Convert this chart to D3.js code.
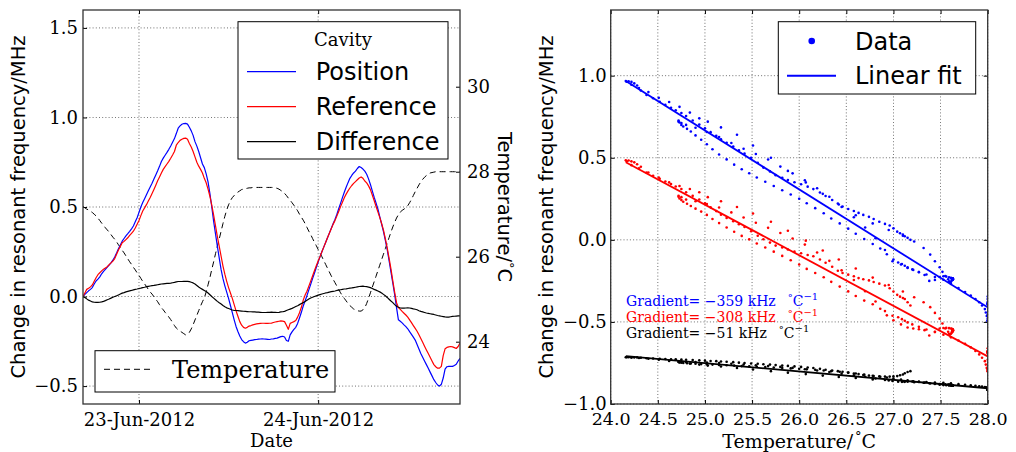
<!DOCTYPE html>
<html>
<head>
<meta charset="utf-8">
<script src="https://cdn.jsdelivr.net/npm/d3@7"></script>
<style>
  body { margin: 0; background: #fff; }
  svg { display: block; }
</style>
</head>
<body>
<svg id="chart" width="1016" height="452"></svg>
<script>
// ---- Data: cavity resonant frequency shifts (MHz) and lab temperature (°C),
// ---- logged every 15 minutes from 22-Jun-2012 16:30 UTC.
const startTime = "2012-06-22T16:30:00Z";
const stepMinutes = 15;

const position = [
  0.0, 0.012, 0.022, 0.032, 0.04, 0.05, 0.07, 0.087, 0.097, 0.11,
  0.127, 0.14, 0.152, 0.164, 0.176, 0.188, 0.203, 0.221, 0.243,
  0.267, 0.288, 0.309, 0.324, 0.339, 0.351, 0.364, 0.378, 0.394, 0.417,
  0.44, 0.47, 0.5, 0.525, 0.546, 0.568, 0.591, 0.612, 0.633, 0.656,
  0.679, 0.702, 0.727, 0.754, 0.773, 0.789, 0.805, 0.822, 0.841, 0.862,
  0.882, 0.91, 0.94, 0.953, 0.962, 0.966, 0.967, 0.963, 0.945, 0.925,
  0.90, 0.865, 0.84, 0.81, 0.775, 0.74, 0.72, 0.685, 0.64, 0.575,
  0.50, 0.42, 0.35, 0.28, 0.215, 0.15, 0.10, 0.06, 0.025, -0.01,
  -0.05, -0.09, -0.13, -0.167, -0.195, -0.22, -0.24, -0.252, -0.26, -0.255,
  -0.247, -0.245, -0.243, -0.241, -0.24, -0.238, -0.237, -0.236, -0.237, -0.238,
  -0.239, -0.24, -0.237, -0.236, -0.234, -0.232, -0.228, -0.224, -0.222, -0.226,
  -0.245, -0.25, -0.214, -0.197, -0.183, -0.172, -0.15, -0.12, -0.088, -0.053,
  -0.025, 0.005, 0.037, 0.068, 0.10, 0.13, 0.162, 0.193, 0.223, 0.25,
  0.276, 0.302, 0.328, 0.354, 0.38, 0.406, 0.43, 0.458, 0.49, 0.52,
  0.552, 0.582, 0.61, 0.636, 0.66, 0.676, 0.69, 0.70, 0.715, 0.726,
  0.72, 0.712, 0.70, 0.683, 0.657, 0.626, 0.59, 0.555, 0.523, 0.489,
  0.446, 0.405, 0.363, 0.314, 0.262, 0.2, 0.138, 0.075, 0.01, -0.062,
  -0.13, -0.138, -0.147, -0.158, -0.168, -0.18, -0.196, -0.211, -0.227, -0.243,
  -0.268, -0.293, -0.318, -0.339, -0.36, -0.38, -0.40, -0.422, -0.443, -0.464,
  -0.48, -0.494, -0.50, -0.49, -0.455, -0.405, -0.392, -0.39, -0.39, -0.39,
  -0.385, -0.378, -0.36, -0.345
];

const reference = [
  0.0, 0.02, 0.04, 0.046, 0.054, 0.065, 0.085, 0.105, 0.122, 0.133,
  0.143, 0.153, 0.16, 0.167, 0.178, 0.188, 0.198, 0.212, 0.236,
  0.26, 0.28, 0.3, 0.308, 0.318, 0.328, 0.341, 0.353, 0.365, 0.383,
  0.404, 0.425, 0.452, 0.478, 0.495, 0.513, 0.533, 0.553, 0.575, 0.598,
  0.622, 0.646, 0.668, 0.69, 0.71, 0.725, 0.74, 0.755, 0.772, 0.79,
  0.81, 0.845, 0.86, 0.872, 0.878, 0.883, 0.885, 0.878, 0.855, 0.835,
  0.81, 0.78, 0.75, 0.728, 0.71, 0.69, 0.66, 0.635, 0.60, 0.56,
  0.51, 0.455, 0.395, 0.335, 0.28, 0.225, 0.17, 0.125, 0.085, 0.05,
  0.02, -0.01, -0.045, -0.08, -0.11, -0.14, -0.16, -0.172, -0.177, -0.172,
  -0.165, -0.162, -0.158, -0.155, -0.153, -0.151, -0.15, -0.149, -0.149, -0.15,
  -0.15, -0.149, -0.148, -0.145, -0.142, -0.14, -0.138, -0.136, -0.137, -0.14,
  -0.16, -0.183, -0.15, -0.145, -0.14, -0.134, -0.115, -0.09, -0.06, -0.02,
  0.008, 0.03, 0.058, 0.086, 0.115, 0.144, 0.172, 0.198, 0.223, 0.25,
  0.276, 0.302, 0.328, 0.353, 0.378, 0.403, 0.424, 0.449, 0.475, 0.502,
  0.527, 0.552, 0.572, 0.59, 0.606, 0.62, 0.632, 0.642, 0.652, 0.662,
  0.668, 0.66, 0.645, 0.635, 0.618, 0.597, 0.567, 0.536, 0.504, 0.473,
  0.442, 0.408, 0.371, 0.323, 0.272, 0.214, 0.155, 0.087, 0.024, -0.034,
  -0.062, -0.072, -0.083, -0.093, -0.103, -0.115, -0.13, -0.146, -0.162, -0.178,
  -0.194, -0.213, -0.234, -0.255, -0.277, -0.298, -0.318, -0.339, -0.36, -0.38,
  -0.392, -0.40, -0.40, -0.39, -0.33, -0.292, -0.284, -0.281, -0.279, -0.281,
  -0.285, -0.29, -0.279, -0.26
];

const difference = [
  0.0, -0.005, -0.013, -0.02, -0.025, -0.03, -0.032, -0.033, -0.033, -0.032,
  -0.03, -0.027, -0.023, -0.018, -0.014, -0.009, -0.004, 0.0, 0.004,
  0.009, 0.014, 0.019, 0.022, 0.026, 0.029, 0.032, 0.034, 0.037, 0.04,
  0.042, 0.045, 0.047, 0.05, 0.052, 0.055, 0.057, 0.059, 0.061, 0.062,
  0.064, 0.066, 0.068, 0.07, 0.071, 0.072, 0.073, 0.074, 0.075, 0.077,
  0.079, 0.082, 0.084, 0.084, 0.084, 0.085, 0.085, 0.085, 0.083, 0.08,
  0.076, 0.07, 0.062, 0.053, 0.046, 0.04, 0.034, 0.028, 0.02, 0.01,
  0.0, -0.009, -0.018, -0.027, -0.035, -0.042, -0.05, -0.057, -0.063, -0.067,
  -0.071, -0.075, -0.077, -0.078, -0.079, -0.08, -0.081, -0.082, -0.083, -0.084,
  -0.085, -0.085, -0.086, -0.086, -0.087, -0.087, -0.088, -0.089, -0.089, -0.089,
  -0.088, -0.088, -0.087, -0.088, -0.088, -0.089, -0.088, -0.086, -0.085, -0.083,
  -0.078, -0.074, -0.07, -0.066, -0.061, -0.056, -0.051, -0.045, -0.039, -0.034,
  -0.028, -0.021, -0.014, -0.008, -0.004, 0.0, 0.004, 0.008, 0.011, 0.014,
  0.017, 0.02, 0.022, 0.025, 0.027, 0.029, 0.031, 0.034, 0.036, 0.038,
  0.04, 0.042, 0.043, 0.045, 0.047, 0.048, 0.05, 0.052, 0.054, 0.056,
  0.057, 0.058, 0.056, 0.055, 0.053, 0.05, 0.045, 0.04, 0.036, 0.031,
  0.026, 0.02, 0.012, 0.004, -0.005, -0.015, -0.025, -0.034, -0.045, -0.054,
  -0.06, -0.064, -0.065, -0.065, -0.064, -0.063, -0.064, -0.066, -0.069, -0.071,
  -0.074, -0.079, -0.083, -0.086, -0.089, -0.092, -0.094, -0.096, -0.098, -0.1,
  -0.103, -0.106, -0.108, -0.11, -0.112, -0.114, -0.115, -0.115, -0.113, -0.111,
  -0.11, -0.109, -0.108, -0.108
];

const temperature = [
  27.18, 27.15, 27.12, 27.1, 27.07, 27.04, 27.0, 26.96, 26.91, 26.85,
  26.79, 26.74, 26.68, 26.63, 26.58, 26.52, 26.46, 26.41, 26.35,
  26.28, 26.22, 26.15, 26.09, 26.02, 25.95, 25.88, 25.82, 25.75, 25.69,
  25.62, 25.56, 25.49, 25.42, 25.36, 25.3, 25.23, 25.17, 25.12, 25.06,
  25.0, 24.94, 24.87, 24.8, 24.75, 24.69, 24.64, 24.58, 24.52, 24.45,
  24.38, 24.32, 24.28, 24.25, 24.22, 24.19, 24.16, 24.17, 24.22, 24.3,
  24.4, 24.51, 24.62, 24.73, 24.84, 24.94, 25.03, 25.17, 25.34, 25.51,
  25.7, 25.88, 26.07, 26.25, 26.42, 26.6, 26.78, 26.95, 27.1, 27.22,
  27.32, 27.39, 27.44, 27.49, 27.52, 27.55, 27.58, 27.59, 27.6, 27.61,
  27.62, 27.62, 27.63, 27.63, 27.63, 27.63, 27.63, 27.63, 27.63, 27.63,
  27.63, 27.63, 27.63, 27.63, 27.62, 27.61, 27.59, 27.56, 27.53, 27.49,
  27.44, 27.38, 27.33, 27.27, 27.21, 27.15, 27.08, 27.0, 26.93, 26.86,
  26.78, 26.69, 26.6, 26.52, 26.43, 26.34, 26.26, 26.17, 26.08, 26.0,
  25.91, 25.82, 25.73, 25.64, 25.55, 25.47, 25.39, 25.31, 25.23, 25.15,
  25.08, 25.02, 24.96, 24.9, 24.85, 24.81, 24.77, 24.75, 24.73, 24.72,
  24.72, 24.75, 24.8, 24.9, 25.02, 25.15, 25.28, 25.41, 25.54, 25.67,
  25.8, 25.93, 26.06, 26.19, 26.32, 26.45, 26.58, 26.7, 26.81, 26.91,
  26.99, 27.05, 27.09, 27.12, 27.15, 27.2, 27.27, 27.35, 27.44, 27.53,
  27.61, 27.69, 27.76, 27.82, 27.87, 27.91, 27.94, 27.97, 27.98, 27.99,
  28.0, 28.0, 28.0, 28.0, 28.0, 28.0, 28.0, 28.0, 28.0, 28.0,
  28.0, 28.0, 28.0, 28.0
];

// Axis ticks
const dateTicks = ["2012-06-23T00:00:00Z", "2012-06-24T00:00:00Z"];
const freqTicksLeft = [-0.5, 0.0, 0.5, 1.0, 1.5];
const tempTicksLeft = [24, 26, 28, 30];
const tempTicksRight = [24.0, 24.5, 25.0, 25.5, 26.0, 26.5, 27.0, 27.5, 28.0];
const freqTicksRight = [-1.0, -0.5, 0.0, 0.5, 1.0];

// Series styling / labelling
const seriesNames = ["Position", "Reference", "Difference"];
const seriesColors = ["#0000ff", "#ff0000", "#000000"];
// vertical offsets applied in the temperature-dependence panel (MHz)
const scatterOffsets = [0.0, -0.4, -0.8];
// linear-fit gradients (kHz per °C) and fit value at 26 °C (MHz, offset included)
const fitGradients = [-359, -308, -51];
const fitAt26 = [0.307, -0.094, -0.802];

// ---------------------------------------------------------------------------
const svg = d3.select("#chart");
const serif = "DejaVu Serif";
const sans = "DejaVu Sans";
const spineColor = "#333";

const t0 = new Date(startTime).getTime();
const times = position.map((_, i) => new Date(t0 + i * stepMinutes * 60000));
const series = [position, reference, difference];

function styleAxis(g, size) {
  g.select(".domain").remove();
  g.selectAll(".tick line").attr("stroke", "#000").attr("stroke-width", 1);
  g.selectAll(".tick text")
    .attr("font-family", serif)
    .attr("font-size", size)
    .attr("fill", "#000");
}

function gridLines(g, xs, ys, x0, x1, y0, y1) {
  g.selectAll(null).data(xs).join("line")
    .attr("x1", d => d).attr("x2", d => d).attr("y1", y0).attr("y2", y1);
  g.selectAll(null).data(ys).join("line")
    .attr("y1", d => d).attr("y2", d => d).attr("x1", x0).attr("x2", x1);
  g.selectAll("line")
    .attr("stroke", "#000").attr("stroke-width", 0.7)
    .attr("stroke-dasharray", "1,2.2").attr("opacity", 0.8);
}

// =========================== Left panel: time series =========================
const L = { left: 83, right: 460, top: 10, bottom: 404 };
const xTime = d3.scaleUtc().domain(d3.extent(times)).range([L.left, L.right]);
const yFreq = d3.scaleLinear().domain([-0.6, 1.6]).range([L.bottom, L.top]);
const yTemp = d3.scaleLinear().domain([22.534, 31.805]).range([L.bottom, L.top]);

svg.append("clipPath").attr("id", "clipL").append("rect")
  .attr("x", L.left).attr("y", L.top)
  .attr("width", L.right - L.left).attr("height", L.bottom - L.top);

const dateTickValues = dateTicks.map(d => new Date(d));
gridLines(svg.append("g"),
  dateTickValues.map(xTime), freqTicksLeft.map(yFreq),
  L.left, L.right, L.top, L.bottom);

const plotL = svg.append("g").attr("clip-path", "url(#clipL)");

// temperature (right axis), dashed
plotL.append("path")
  .datum(temperature)
  .attr("fill", "none").attr("stroke", "#000").attr("stroke-width", 1)
  .attr("stroke-dasharray", "6,4")
  .attr("d", d3.line().x((d, i) => xTime(times[i])).y(d => yTemp(d)));

// frequency shifts
series.forEach((s, k) => {
  plotL.append("path")
    .datum(s)
    .attr("fill", "none").attr("stroke", seriesColors[k]).attr("stroke-width", 1.2)
    .attr("stroke-linejoin", "round")
    .attr("d", d3.line().x((d, i) => xTime(times[i])).y(d => yFreq(d)));
});

// axes
svg.append("g").attr("transform", `translate(0,${L.bottom})`)
  .call(d3.axisBottom(xTime).tickValues(dateTickValues)
    .tickFormat(d3.utcFormat("%d-%b-%Y")).tickSizeInner(-4).tickSizeOuter(0))
  .call(g => styleAxis(g, 18))
  .call(g => g.selectAll(".tick text").attr("y", 22).attr("dy", null));

svg.append("g").attr("transform", `translate(0,${L.top})`)
  .call(d3.axisTop(xTime).tickValues(dateTickValues).tickFormat("")
    .tickSizeInner(-4).tickSizeOuter(0))
  .call(g => styleAxis(g, 18));

svg.append("g").attr("transform", `translate(${L.left},0)`)
  .call(d3.axisLeft(yFreq).tickValues(freqTicksLeft).tickFormat(d3.format(".1f"))
    .tickSizeInner(-4).tickSizeOuter(0).tickPadding(5))
  .call(g => styleAxis(g, 18));

svg.append("g").attr("transform", `translate(${L.right},0)`)
  .call(d3.axisRight(yTemp).tickValues(tempTicksLeft).tickFormat(d3.format("d"))
    .tickSizeInner(-4).tickSizeOuter(0).tickPadding(7))
  .call(g => styleAxis(g, 18));

svg.append("rect")
  .attr("x", L.left).attr("y", L.top)
  .attr("width", L.right - L.left).attr("height", L.bottom - L.top)
  .attr("fill", "none").attr("stroke", spineColor).attr("stroke-width", 1.3);

// axis labels
svg.append("text")
  .attr("transform", `translate(24.5,${(L.top + L.bottom) / 2}) rotate(-90)`)
  .attr("text-anchor", "middle").attr("font-family", sans).attr("font-size", 19.5)
  .text("Change in resonant frequency/MHz");

svg.append("text")
  .attr("x", (L.left + L.right) / 2).attr("y", 447)
  .attr("text-anchor", "middle").attr("font-family", serif).attr("font-size", 18)
  .text("Date");

const tLab = svg.append("text")
  .attr("transform", `translate(497.5,${(L.top + L.bottom) / 2}) rotate(90)`)
  .attr("text-anchor", "middle").attr("font-family", sans).attr("font-size", 19.5);
tLab.append("tspan").text("Temperature/");
tLab.append("tspan").attr("font-size", 13).attr("dy", -7).text("°");
tLab.append("tspan").attr("dy", 7).text("C");

// legend: cavity
const legC = svg.append("g");
legC.append("rect").attr("x", 238).attr("y", 21.7).attr("width", 210).attr("height", 137.3)
  .attr("fill", "#fff").attr("stroke", "#000").attr("stroke-width", 1);
legC.append("text").attr("x", 343).attr("y", 46).attr("text-anchor", "middle")
  .attr("font-family", serif).attr("font-size", 18).text("Cavity");
seriesNames.forEach((name, k) => {
  const y = 71.7 + k * 35;
  legC.append("line").attr("x1", 247).attr("x2", 296).attr("y1", y).attr("y2", y)
    .attr("stroke", seriesColors[k]).attr("stroke-width", 1.2);
  legC.append("text").attr("x", 315.7).attr("y", y + 8.7)
    .attr("font-family", sans).attr("font-size", 24).text(name);
});

// legend: temperature
const legT = svg.append("g");
legT.append("rect").attr("x", 95).attr("y", 350.7).attr("width", 240).attr("height", 41.3)
  .attr("fill", "#fff").attr("stroke", "#000").attr("stroke-width", 1);
legT.append("line").attr("x1", 104).attr("x2", 153).attr("y1", 369.3).attr("y2", 369.3)
  .attr("stroke", "#000").attr("stroke-width", 1).attr("stroke-dasharray", "6,4");
legT.append("text").attr("x", 172).attr("y", 378)
  .attr("font-family", serif).attr("font-size", 24).text("Temperature");

// ====================== Right panel: frequency vs temperature ================
const R = { left: 610.7, right: 987.7, top: 10, bottom: 404 };
const xT = d3.scaleLinear().domain([24, 28]).range([R.left, R.right]);
const yF = d3.scaleLinear().domain([-1, 1.4]).range([R.bottom, R.top]);

gridLines(svg.append("g"),
  tempTicksRight.map(xT), freqTicksRight.map(yF),
  R.left, R.right, R.top, R.bottom);

svg.append("clipPath").attr("id", "clipR").append("rect")
  .attr("x", R.left).attr("y", R.top)
  .attr("width", R.right - R.left).attr("height", R.bottom - R.top);
const plotR = svg.append("g").attr("clip-path", "url(#clipR)");

const tExtent = d3.extent(temperature);
series.forEach((s, k) => {
  plotR.append("g").selectAll("circle")
    .data(s.map((v, i) => [temperature[i], v + scatterOffsets[k]]))
    .join("circle")
    .attr("cx", d => xT(d[0])).attr("cy", d => yF(d[1])).attr("r", 1.3)
    .attr("fill", seriesColors[k]);
});
series.forEach((s, k) => {
  const fit = T => fitAt26[k] + fitGradients[k] / 1000 * (T - 26);
  plotR.append("line")
    .attr("x1", xT(tExtent[0])).attr("y1", yF(fit(tExtent[0])))
    .attr("x2", xT(tExtent[1])).attr("y2", yF(fit(tExtent[1])))
    .attr("stroke", seriesColors[k]).attr("stroke-width", 1.8);
});

svg.append("g").attr("transform", `translate(0,${R.bottom})`)
  .call(d3.axisBottom(xT).tickValues(tempTicksRight).tickFormat(d3.format(".1f"))
    .tickSizeInner(-4).tickSizeOuter(0))
  .call(g => styleAxis(g, 17.5))
  .call(g => g.selectAll(".tick text").attr("y", 21).attr("dy", null));
svg.append("g").attr("transform", `translate(0,${R.top})`)
  .call(d3.axisTop(xT).tickValues(tempTicksRight).tickFormat("")
    .tickSizeInner(-4).tickSizeOuter(0))
  .call(g => styleAxis(g, 18));
svg.append("g").attr("transform", `translate(${R.left},0)`)
  .call(d3.axisLeft(yF).tickValues(freqTicksRight).tickFormat(d3.format(".1f"))
    .tickSizeInner(-4).tickSizeOuter(0).tickPadding(4))
  .call(g => styleAxis(g, 18));
svg.append("g").attr("transform", `translate(${R.right},0)`)
  .call(d3.axisRight(yF).tickValues(freqTicksRight).tickFormat("")
    .tickSizeInner(-4).tickSizeOuter(0))
  .call(g => styleAxis(g, 18));

svg.append("rect")
  .attr("x", R.left).attr("y", R.top)
  .attr("width", R.right - R.left).attr("height", R.bottom - R.top)
  .attr("fill", "none").attr("stroke", spineColor).attr("stroke-width", 1.3);

svg.append("text")
  .attr("transform", `translate(552.5,${(R.top + R.bottom) / 2}) rotate(-90)`)
  .attr("text-anchor", "middle").attr("font-family", sans).attr("font-size", 19.5)
  .text("Change in resonant frequency/MHz");

const xLab = svg.append("text")
  .attr("x", (R.left + R.right) / 2).attr("y", 447.5)
  .attr("text-anchor", "middle").attr("font-family", serif).attr("font-size", 19);
xLab.append("tspan").text("Temperature/");
xLab.append("tspan").attr("font-size", 13).attr("dy", -7).attr("dx", 2).text("°");
xLab.append("tspan").attr("dy", 7).text("C");

// gradient annotations
const fmtGrad = d3.format("d");
fitGradients.forEach((g, k) => {
  const txt = svg.append("text")
    .attr("x", 626).attr("y", 306 + k * 16)
    .attr("font-family", serif).attr("font-size", 14).attr("fill", seriesColors[k]);
  txt.append("tspan").text(`Gradient= ${fmtGrad(g)} kHz`);
  txt.append("tspan").attr("dx", 12).attr("dy", -5).attr("font-size", 10).text("°");
  txt.append("tspan").attr("dy", 5).attr("font-size", 14).text("C");
  txt.append("tspan").attr("dy", -6).attr("font-size", 10).text("−1");
});

// legend: data / fit
const legR = svg.append("g");
legR.append("rect").attr("x", 778.3).attr("y", 21.7).attr("width", 197.4).attr("height", 72.3)
  .attr("fill", "#fff").attr("stroke", "#000").attr("stroke-width", 1);
legR.append("circle").attr("cx", 811.7).attr("cy", 41).attr("r", 3.3).attr("fill", seriesColors[0]);
legR.append("text").attr("x", 855).attr("y", 49.7)
  .attr("font-family", sans).attr("font-size", 24).text("Data");
legR.append("line").attr("x1", 787).attr("x2", 836).attr("y1", 75.7).attr("y2", 75.7)
  .attr("stroke", seriesColors[0]).attr("stroke-width", 2);
legR.append("text").attr("x", 855).attr("y", 84.4)
  .attr("font-family", sans).attr("font-size", 24).text("Linear fit");
</script>
</body>
</html>
